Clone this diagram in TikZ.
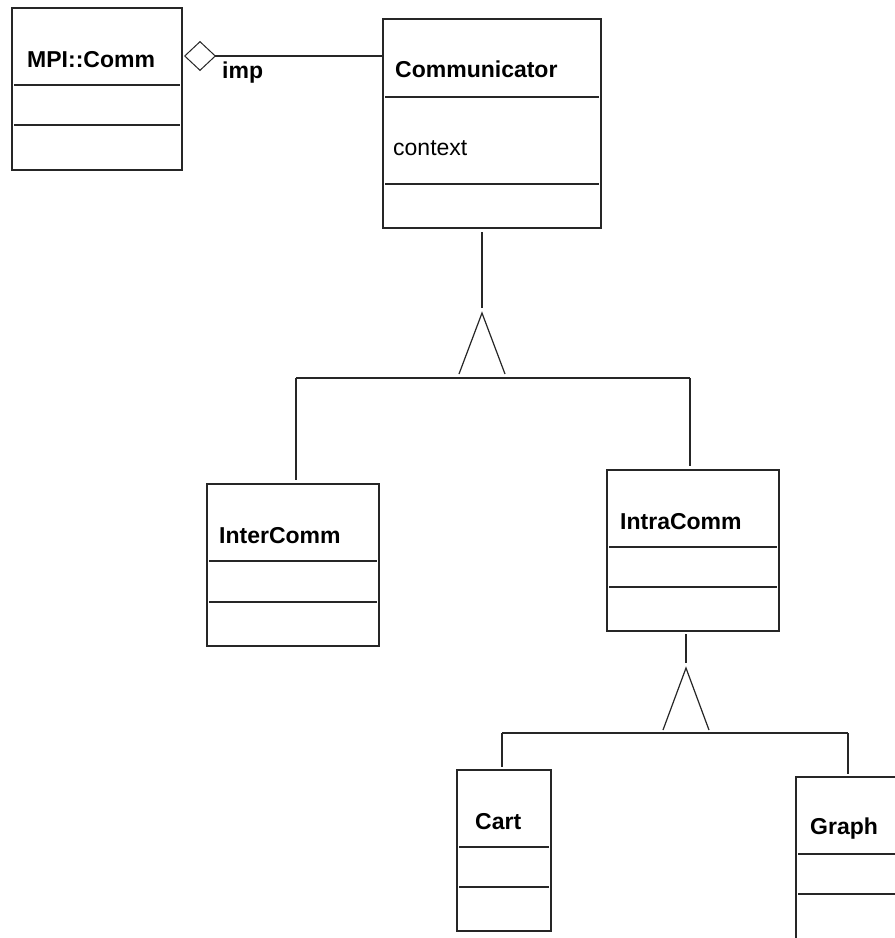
\documentclass[tikz,border=0pt]{standalone}
\usepackage{fontspec}
\setmainfont{Liberation Sans}
\usetikzlibrary{arrows.meta}
\begin{document}
\begin{tikzpicture}[x=1pt,y=-1pt,
  ln/.style={draw=black!85,line width=1.2pt},
  cls/.style={ln,rectangle,inner sep=0pt,outer sep=0pt,anchor=north west},
  title/.style={anchor=base west,inner sep=0pt,font=\fontsize{23}{26}\selectfont\bfseries},
  attr/.style={anchor=base west,inner sep=0pt,font=\fontsize{23}{26}\selectfont},
  sep/.style={draw=black!85,line width=1.2pt}]
\path[use as bounding box,clip] (0,0) rectangle (895,938);
\fill[white] (0,0) rectangle (895,938);

% class boxes
\node[cls,minimum width=170pt,minimum height=162pt] (mpi) at (12,8) {};
\node[cls,minimum width=218pt,minimum height=209pt] (comm) at (383,19) {};
\node[cls,minimum width=172pt,minimum height=162pt] (inter) at (207,484) {};
\node[cls,minimum width=172pt,minimum height=161pt] (intra) at (607,470) {};
\node[cls,minimum width=94pt,minimum height=161pt] (cart) at (457,770) {};
\node[cls,minimum width=200pt,minimum height=250pt] (graph) at (796,777) {};

% compartments
\draw[sep] (14,85) -- (180,85) (14,125) -- (180,125);
\draw[sep] (385,97) -- (599,97) (385,184) -- (599,184);
\draw[sep] (209,561) -- (377,561) (209,602) -- (377,602);
\draw[sep] (609,547) -- (777,547) (609,587) -- (777,587);
\draw[sep] (459,847) -- (549,847) (459,887) -- (549,887);
\draw[sep] (798,854) -- (995,854) (798,894) -- (995,894);

% texts
\node[title] (tmpi) at (27,67) {MPI::Comm};
\node[title] (tcomm) at (395,77) {Communicator};
\node[attr] (tctx) at (393,155) {context};
\node[title] (tinter) at (219,543) {InterComm};
\node[title] (tintra) at (620,529) {IntraComm};
\node[title] (tcart) at (475,829) {Cart};
\node[title] (tgraph) at (810,834) {Graph};

% aggregation
\coordinate (aggC) at (comm.west |- 0,56);
\coordinate (aggM) at (184,56);
\draw[ln,-{Diamond[open,length=32pt,width=30pt,line width=1pt]}] (aggC) -- (aggM);
\node[title] (timp) at (222,78) {imp};

% generalization 1
\coordinate (g1s) at (482,232);
\coordinate (g1e) at (482,308);
\coordinate (g1a) at (482,313);
\coordinate (g1l) at (459,374);
\coordinate (g1r) at (505,374);
\coordinate (g1L) at (296,378);
\coordinate (g1R) at (690,378);
\coordinate (g1i) at (296,480);
\coordinate (g1t) at (690,466);
\draw[ln] (g1s) -- (g1e);
\draw[ln] (g1l) -- (g1a) -- (g1r);
\draw[ln] (g1L) -- (g1R);
\draw[ln] (g1L) -- (g1i);
\draw[ln] (g1R) -- (g1t);

% generalization 2
\coordinate (g2s) at (686,634);
\coordinate (g2e) at (686,663);
\coordinate (g2a) at (686,668);
\coordinate (g2l) at (663,730);
\coordinate (g2r) at (709,730);
\coordinate (g2L) at (502,733);
\coordinate (g2R) at (848,733);
\coordinate (g2c) at (502,767);
\coordinate (g2g) at (848,774);
\draw[ln] (g2s) -- (g2e);
\draw[ln] (g2l) -- (g2a) -- (g2r);
\draw[ln] (g2L) -- (g2R);
\draw[ln] (g2L) -- (g2c);
\draw[ln] (g2R) -- (g2g);
\end{tikzpicture}
\end{document}
